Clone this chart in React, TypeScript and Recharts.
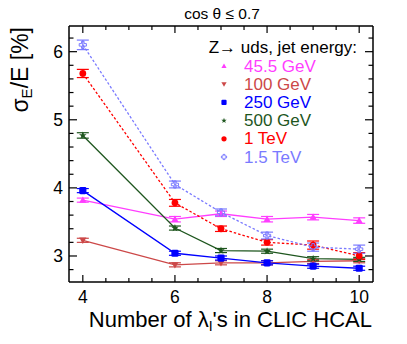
import React from 'react';
import { ErrorBar, Line, LineChart, XAxis, YAxis } from 'recharts';

// number of interaction lengths in the HCAL
const nLambda = [4, 6, 7, 8, 9, 10];

// jet energy resolution sigma_E/E [%]
const res45 = [3.82, 3.54, 3.62, 3.54, 3.57, 3.52];
const res100 = [3.23, 2.87, 2.9, 2.9, 2.92, 2.93];
const res250 = [3.96, 3.04, 2.97, 2.9, 2.85, 2.82];
const res500 = [4.77, 3.41, 3.08, 3.07, 2.96, 2.95];
const res1000 = [5.68, 3.78, 3.4, 3.2, 3.16, 3.0];
const res1500 = [6.1, 4.05, 3.64, 3.3, 3.13, 3.1];

// statistical errors
const err45 = [0.03, 0.04, 0.04, 0.04, 0.04, 0.04];
const err100 = [0.03, 0.03, 0.03, 0.03, 0.03, 0.03];
const err250 = [0.03, 0.03, 0.03, 0.03, 0.03, 0.03];
const err500 = [0.04, 0.03, 0.03, 0.03, 0.03, 0.03];
const err1000 = [0.06, 0.05, 0.04, 0.04, 0.06, 0.05];
const err1500 = [0.07, 0.05, 0.05, 0.05, 0.06, 0.06];

const seriesNames = ['45.5 GeV', '100 GeV', '250 GeV', '500 GeV', '1 TeV', '1.5 TeV'];

const xTicks = [4, 4.5, 5, 5.5, 6, 6.5, 7, 7.5, 8, 8.5, 9, 9.5, 10];
const xLabelTicks = [4, 6, 8, 10];
const yTicks = [2.8, 3, 3.2, 3.4, 3.6, 3.8, 4, 4.2, 4.4, 4.6, 4.8, 5, 5.2, 5.4, 5.6, 5.8, 6, 6.2];

const FONT = '"Liberation Sans", Arial, Helvetica, sans-serif';

const series = [
  { name: seriesNames[0], vals: res45, errs: err45, color: '#ff3dff', shape: 'triUp', dashed: false },
  { name: seriesNames[1], vals: res100, errs: err100, color: '#cc4848', shape: 'triDown', dashed: false },
  { name: seriesNames[2], vals: res250, errs: err250, color: '#0000ff', shape: 'square', dashed: false },
  { name: seriesNames[3], vals: res500, errs: err500, color: '#1e561e', shape: 'star', dashed: false },
  { name: seriesNames[4], vals: res1000, errs: err1000, color: '#ff0000', shape: 'circle', dashed: true },
  { name: seriesNames[5], vals: res1500, errs: err1500, color: '#7a7aff', shape: 'openCross', dashed: true },
];

const rows = nLambda.map((x, i) => {
  const r: Record<string, number> = { x };
  series.forEach((s, k) => {
    r['s' + k] = s.vals[i];
    r['e' + k] = s.errs[i];
  });
  return r;
});

function marker(shape: string, cx: number, cy: number, s: number, color: string, key?: any) {
  switch (shape) {
    case 'triUp':
      return (
        <polygon key={key} points={`${cx},${cy - s} ${cx - s},${cy + s * 0.75} ${cx + s},${cy + s * 0.75}`} fill={color} />
      );
    case 'triDown':
      return (
        <polygon key={key} points={`${cx},${cy + s} ${cx - s},${cy - s * 0.75} ${cx + s},${cy - s * 0.75}`} fill={color} />
      );
    case 'square':
      return <rect key={key} x={cx - s} y={cy - s} width={2 * s} height={2 * s} rx={s * 0.4} fill={color} />;
    case 'circle':
      return <circle key={key} cx={cx} cy={cy} r={s} fill={color} />;
    case 'star': {
      const pts: string[] = [];
      for (let i = 0; i < 10; i++) {
        const r = i % 2 === 0 ? s * 1.1 : s * 0.45;
        const a = -Math.PI / 2 + (i * Math.PI) / 5;
        pts.push(`${cx + r * Math.cos(a)},${cy + r * Math.sin(a)}`);
      }
      return <polygon key={key} points={pts.join(' ')} fill={color} />;
    }
    case 'openCross': {
      const a = s * 0.35;
      const p = [
        [-a, -s], [a, -s], [a, -a], [s, -a], [s, a], [a, a],
        [a, s], [-a, s], [-a, a], [-s, a], [-s, -a], [-a, -a],
      ];
      return (
        <polygon
          key={key}
          points={p.map(([dx, dy]) => `${cx + dx},${cy + dy}`).join(' ')}
          fill="none"
          stroke={color}
          strokeWidth={1}
        />
      );
    }
    default:
      return <g key={key} />;
  }
}

const isMajor = (v: number) => Math.abs(v - Math.round(v)) < 1e-6;

const BottomTick = (props: any) => {
  const { x, y, payload } = props;
  const v = payload.value;
  const major = xLabelTicks.includes(v);
  return (
    <g>
      <line x1={x} x2={x} y1={y} y2={y - (major ? 7 : 4)} stroke="#000" strokeWidth={1.2} />
      {major && (
        <text x={x} y={y + 20.5} textAnchor="middle" fontSize={17.5} fontFamily={FONT} fill="#000">
          {v}
        </text>
      )}
    </g>
  );
};

const TopTick = (props: any) => {
  const { x, y, payload } = props;
  const major = xLabelTicks.includes(payload.value);
  return <line x1={x} x2={x} y1={y} y2={y + (major ? 7 : 4)} stroke="#000" strokeWidth={1.2} />;
};

const LeftTick = (props: any) => {
  const { x, y, payload } = props;
  const v = payload.value;
  const major = isMajor(v);
  return (
    <g>
      <line x1={x} x2={x + (major ? 8 : 4.5)} y1={y} y2={y} stroke="#000" strokeWidth={1.2} />
      {major && (
        <text x={x - 6} y={y + 6.3} textAnchor="end" fontSize={17.5} fontFamily={FONT} fill="#000">
          {Math.round(v)}
        </text>
      )}
    </g>
  );
};

const RightTick = (props: any) => {
  const { x, y, payload } = props;
  const major = isMajor(payload.value);
  return <line x1={x} x2={x - (major ? 8 : 4.5)} y1={y} y2={y} stroke="#000" strokeWidth={1.2} />;
};

export default function App() {
  const axisLine = { stroke: '#000', strokeWidth: 1.5 };
  const xDomain: [number, number] = [3.7, 10.3];
  const yDomain: [number, number] = [2.618, 6.377];

  return (
    <div style={{ position: 'relative', width: 407, height: 344, background: '#fff' }}>
      <style>{'body{margin:0}'}</style>
      <LineChart width={407} height={344} data={rows} margin={{ top: 0, right: 0, bottom: 0, left: 0 }}>
        <XAxis
          xAxisId="b"
          type="number"
          dataKey="x"
          orientation="bottom"
          height={62}
          domain={xDomain}
          allowDataOverflow
          ticks={xTicks}
          interval={0}
          tickSize={0}
          tickMargin={0}
          tickLine={false}
          axisLine={axisLine}
          tick={BottomTick}
        />
        <XAxis
          xAxisId="t"
          type="number"
          dataKey="x"
          orientation="top"
          height={26}
          domain={xDomain}
          allowDataOverflow
          ticks={xTicks}
          interval={0}
          tickSize={0}
          tickMargin={0}
          tickLine={false}
          axisLine={axisLine}
          tick={TopTick}
        />
        <YAxis
          yAxisId="l"
          type="number"
          orientation="left"
          width={69}
          domain={yDomain}
          allowDataOverflow
          ticks={yTicks}
          interval={0}
          tickSize={0}
          tickMargin={0}
          tickLine={false}
          axisLine={axisLine}
          tick={LeftTick}
        />
        <YAxis
          yAxisId="r"
          type="number"
          orientation="right"
          width={34}
          domain={yDomain}
          allowDataOverflow
          ticks={yTicks}
          interval={0}
          tickSize={0}
          tickMargin={0}
          tickLine={false}
          axisLine={axisLine}
          tick={RightTick}
        />
        {series.map((s, k) => (
          <Line
            key={s.name}
            xAxisId="b"
            yAxisId="l"
            type="linear"
            dataKey={'s' + k}
            name={s.name}
            stroke={s.color}
            strokeWidth={1.3}
            strokeDasharray={s.dashed ? '2.5 2' : undefined}
            dot={(p: any) => marker(s.shape, p.cx, p.cy, s.shape === 'circle' ? 3.4 : 3.6, s.color, p.index)}
            activeDot={false}
            isAnimationActive={false}
          >
            <ErrorBar dataKey={'e' + k} direction="y" width={6} stroke={s.color} strokeWidth={1.2} />
          </Line>
        ))}
      </LineChart>

      <svg
        width={407}
        height={344}
        style={{ position: 'absolute', left: 0, top: 0, pointerEvents: 'none' }}
        fontFamily={FONT}
      >
        <text x={222} y={19} textAnchor="middle" fontSize={15.5} fill="#000">
          cos θ ≤ 0.7
        </text>
        <text x={28} y={27} textAnchor="end" fontSize={23} fill="#000" transform="rotate(-90 28 27)">
          σ
          <tspan fontSize={15} dy={4}>E</tspan>
          <tspan dy={-4}>/E [%]</tspan>
        </text>
        <text x={372} y={326.5} textAnchor="end" fontSize={22} fill="#000">
          Number of λ
          <tspan fontSize={14} dy={4}>I</tspan>
          <tspan dy={-4}>'s in CLIC HCAL</tspan>
        </text>
        <text x={357} y={53} textAnchor="end" fontSize={17} fill="#000">
          Z→ uds, jet energy:
        </text>
        {series.map((s, k) => (
          <g key={s.name}>
            {marker(s.shape, 224, 66 + k * 18.2, 2.6, s.color)}
            <text x={244} y={71.5 + k * 18.2} fontSize={17} fill={s.color}>
              {s.name}
            </text>
          </g>
        ))}
      </svg>
    </div>
  );
}
